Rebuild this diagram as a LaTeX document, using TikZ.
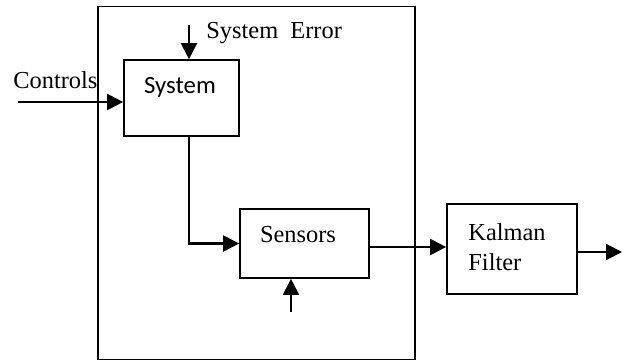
\documentclass[tikz,border=0pt]{standalone}
\usepackage{fontspec}
\setmainfont{Liberation Serif}
\newfontfamily\boxfont{Carlito}
\usetikzlibrary{arrows.meta}

\tikzset{
    blk/.style={draw, line width=0.85pt, inner sep=0pt},
    sig/.style={line width=1.1pt, -{Triangle[length=8pt,width=8pt]}},
    txt/.style={inner sep=0pt, font=\fontsize{12.2}{15}\selectfont}
}

\begin{document}
\begin{tikzpicture}[x=0.5pt, y=-0.5pt]
        \useasboundingbox (0,0) rectangle (628,361);

        % blocks
        \node[blk, minimum width=158.5pt, minimum height=176.5pt] (plant) at (256.5,183) {};
        \node[blk, minimum width=57.5pt, minimum height=38pt] (sys) at (181.5,98) {};
        \node[blk, minimum width=64.5pt, minimum height=34.5pt] (sens) at (304.5,243.5) {};
        \node[blk, minimum width=65pt, minimum height=45pt] (kal) at (512,249) {};

        % texts
        \node[txt, font=\boxfont\fontsize{12.4}{15}\selectfont] (systxt) at (180,87) {System};
        \node[txt] (senstxt) at (298,235) {Sensors};
        \node[txt, anchor=west, align=left] (kaltxt) at (468,247) {Kalman\\Filter};
        \node[txt, anchor=west] (errtxt) at (206,33) {System\ \ Error};
        \node[txt, anchor=west] (ctltxt) at (13,80) {Controls};

        % free ends
        \coordinate (err) at (189,25);
        \coordinate (ctl) at (18,102);
        \coordinate (noise) at (291,312);
        \coordinate (out) at (622,252);

        % signals
        \draw[sig] (err) -- (err |- sys.north);
        \draw[sig] (ctl) -- (ctl -| sys.west);
        \draw[sig] (err |- sys.south) |- (sens.west);
        \draw[sig] (noise) -- (noise |- sens.south);
        \draw[sig] (369,247) -- (kal.west |- 369,247);
        \draw[sig] (kal.east |- out) -- (out);

\end{tikzpicture}
\end{document}
